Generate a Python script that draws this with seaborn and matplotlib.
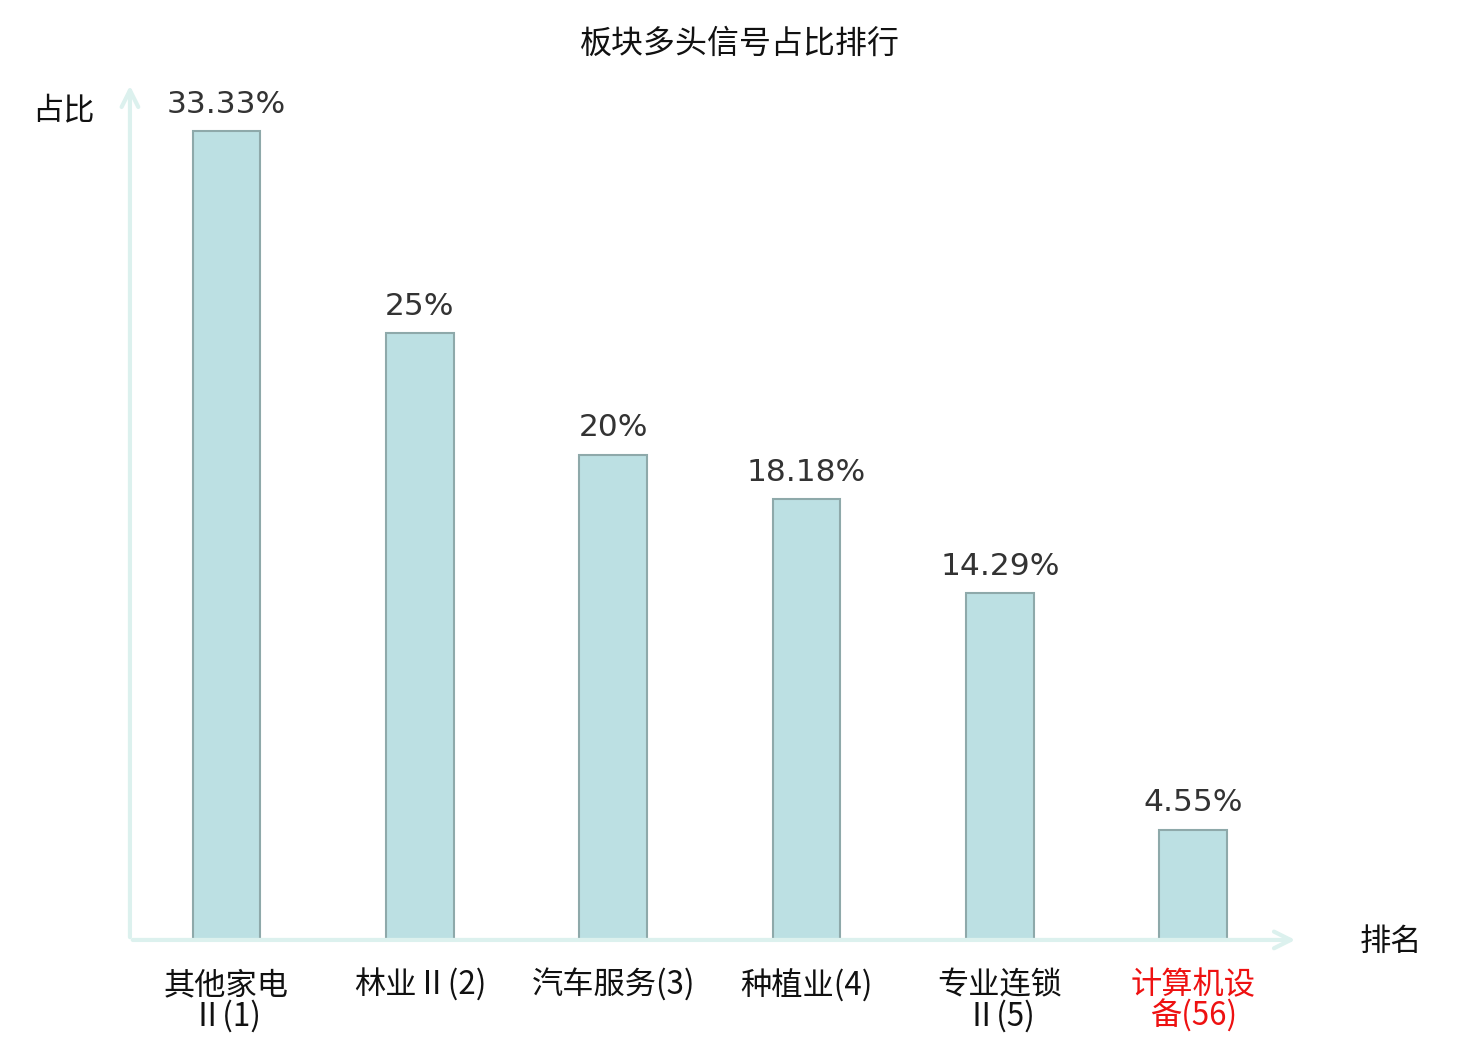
import matplotlib
matplotlib.use('Agg')
import matplotlib.pyplot as plt
import seaborn as sns
import pandas as pd

# chart data
categories = ['其他家电Ⅱ(1)', '林业Ⅱ(2)', '汽车服务(3)', '种植业(4)', '专业连锁Ⅱ(5)', '计算机设备(56)']
tick_labels = ['其他家电\nⅡ(1)', '林业Ⅱ(2)', '汽车服务(3)', '种植业(4)', '专业连锁\nⅡ(5)', '计算机设\n备(56)']
shares = [33.33, 25, 20, 18.18, 14.29, 4.55]
value_labels = ['33.33%', '25%', '20%', '18.18%', '14.29%', '4.55%']

sns.set_theme(style='white')
plt.rcParams['font.family'] = ['Noto Sans CJK SC', 'DejaVu Sans']

df = pd.DataFrame({'板块': categories, '占比': shares})

fig = plt.figure(figsize=(14.8, 10.4), dpi=100)
ax = fig.add_axes([0.0878, 0.0962, 0.7838, 0.8192])

sns.barplot(data=df, x='板块', y='占比', ax=ax, color='#bce0e3', saturation=1,
            edgecolor='#8ea9aa', linewidth=1.5, width=0.35)

ax.set_xlim(-0.5, 5.5)
ax.set_ylim(0, 35.1)

# value labels on top of bars
for i, (v, lab) in enumerate(zip(shares, value_labels)):
    ax.text(i, v + 0.5, lab, ha='center', va='bottom', fontsize=22.5,
            color='#333333', family='DejaVu Sans')

for s in ax.spines.values():
    s.set_visible(False)
ax.set_yticks([])
ax.set_xticks(range(len(tick_labels)))
ax.set_xticklabels(tick_labels, fontsize=22.5, linespacing=0.95, color='#111111')
ax.tick_params(axis='x', length=0, pad=21)
for t in ax.get_xticklabels()[-1:]:
    t.set_color('#ee1111')
ax.set_xlabel('')
ax.set_ylabel('')

# axis arrows
axis_col = '#dcf1ee'
ax.annotate('', xy=(1.007, 0), xytext=(0, 0), xycoords='axes fraction',
            arrowprops=dict(arrowstyle='->', color=axis_col, lw=3, mutation_scale=30))
ax.annotate('', xy=(0, 1.006), xytext=(0, 0), xycoords='axes fraction',
            arrowprops=dict(arrowstyle='->', color=axis_col, lw=3, mutation_scale=30))

fig.text(1391 / 1480, 1 - 942 / 1040, '排名', ha='center', va='center', fontsize=22.5, color='#111111')
fig.text(63 / 1480, 1 - 110 / 1040, '占比', ha='center', va='center', fontsize=22.5, color='#111111')
fig.text(0.5, 1 - 44 / 1040, '板块多头信号占比排行', ha='center', va='center', fontsize=23, color='#111111')

fig.savefig('out.png', dpi=100)
